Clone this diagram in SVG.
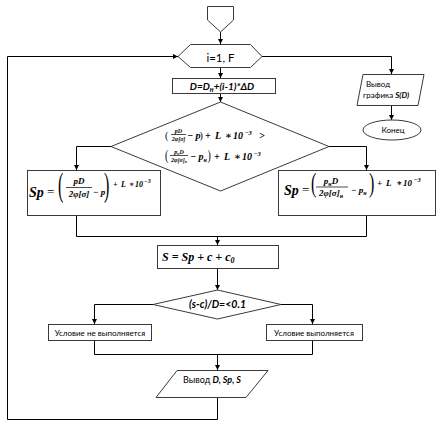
<svg xmlns="http://www.w3.org/2000/svg" width="444" height="442" viewBox="0 0 444 442">
<style>
.sh{fill:#fff;stroke:#3a3a3a;stroke-width:1}
.ln{fill:none;stroke:#000;stroke-width:1}
.ar{marker-end:url(#ah)}
.lb{font-family:Lato,"Liberation Sans",sans-serif;fill:#000}
.m{font-family:"Liberation Serif","DejaVu Serif",serif;font-style:italic;font-weight:bold;fill:#000}
.p{font-family:"Liberation Serif","DejaVu Serif",serif;fill:#000}
.bar{stroke:#000;stroke-width:0.7}
</style>
<defs>
<marker id="ah" viewBox="0 0 8 8" refX="8" refY="4" markerWidth="5" markerHeight="5" orient="auto" markerUnits="userSpaceOnUse"><path d="M0,0 L8,4 L0,8 z" fill="#000"/></marker>
</defs>
<rect width="444" height="442" fill="#fff"/>
<g id="connectors">
<line class="ln ar" x1="220.5" y1="32" x2="220.5" y2="44"/>
<line class="ln ar" x1="220.5" y1="67" x2="220.5" y2="78"/>
<line class="ln ar" x1="220.5" y1="93" x2="220.5" y2="102"/>
<polyline class="ln" points="262,56.5 391.5,56.5 391.5,74"/>
<line class="ln ar" x1="391.5" y1="60" x2="391.5" y2="74"/>
<line class="ln ar" x1="391.5" y1="105" x2="391.5" y2="120"/>
<polyline class="ln ar" points="111,146.5 76.5,146.5 76.5,170"/>
<polyline class="ln ar" points="329,146.5 366.5,146.5 366.5,170"/>
<polyline class="ln" points="76.5,216 76.5,236.5 366.5,236.5 366.5,215"/>
<line class="ln ar" x1="217.5" y1="236" x2="217.5" y2="245"/>
<line class="ln ar" x1="217.5" y1="268" x2="217.5" y2="290"/>
<polyline class="ln ar" points="153,304.5 94.5,304.5 94.5,324"/>
<polyline class="ln ar" points="281,304.5 312.5,304.5 312.5,324"/>
<polyline class="ln" points="94.5,340 94.5,354.5 312.5,354.5 312.5,340"/>
<line class="ln ar" x1="217.5" y1="354" x2="217.5" y2="370"/>
<polyline class="ln ar" points="217.5,397 217.5,419.5 7.5,419.5 7.5,56.5 178,56.5"/>
</g>
<g id="start"><polygon class="sh" points="207.5,6.5 233.5,6.5 233.5,20 220.5,32 207.5,20"/></g>
<g id="loop"><polygon class="sh" points="178,56.5 190.5,44.5 250.5,44.5 262,56.5 250.5,67.5 190.5,67.5"/>
<text class="lb" x="220.5" y="62" font-size="11.5" text-anchor="middle">i=1, F</text></g>
<g id="calcD"><rect class="sh" x="172.5" y="78.5" width="103" height="15"/>
<text class="lb" x="222" y="90" font-size="10" font-weight="bold" font-style="italic" text-anchor="middle">D=D<tspan font-size="7" dy="2">н</tspan><tspan dy="-2">+(i-1)*ΔD</tspan></text></g>
<g id="cond1"><polygon class="sh" points="220.5,102 329,146.5 220.5,191 111,146.5"/>
<text class="p" font-size="10" transform="translate(165,139.3) scale(1,1.1)">(</text>
<text class="m" x="178.5" y="133" font-size="6" text-anchor="middle">pD</text>
<line class="bar" x1="171" y1="134.5" x2="186" y2="134.5"/>
<text class="m" x="178.5" y="140.5" font-size="6" text-anchor="middle">2φ[σ]</text>
<text class="m" x="187" y="139" font-size="10">− p</text>
<text class="p" font-size="10" transform="translate(199.5,139.3) scale(1,1.1)">)</text>
<text class="m" x="205" y="139" font-size="10">+</text>
<text class="m" x="215" y="139" font-size="10">L</text>
<text class="m" x="225" y="139" font-size="10">∗</text>
<text class="m" x="233" y="139" font-size="10">10</text>
<text class="m" x="244.5" y="134.5" font-size="6.5">−3</text>
<text class="m" x="259" y="139" font-size="10">&gt;</text>
<text class="p" font-size="10" transform="translate(165,160) scale(1,1.4)">(</text>
<text class="m" x="179" y="154" font-size="6" text-anchor="middle">p<tspan font-size="4" dy="1">н</tspan><tspan dy="-1">D</tspan></text>
<line class="bar" x1="170" y1="155.5" x2="188" y2="155.5"/>
<text class="m" x="179" y="161.5" font-size="6" text-anchor="middle">2φ[σ]<tspan font-size="4" dy="1">н</tspan></text>
<text class="m" x="190" y="160" font-size="10">− p<tspan font-size="6" dy="2">н</tspan></text>
<text class="p" font-size="10" transform="translate(207.5,160) scale(1,1.4)">)</text>
<text class="m" x="214" y="160" font-size="10">+</text>
<text class="m" x="224" y="160" font-size="10">L</text>
<text class="m" x="234" y="160" font-size="10">∗</text>
<text class="m" x="242" y="160" font-size="10">10</text>
<text class="m" x="253.5" y="155.5" font-size="6.5">−3</text>
</g>
<g id="spLeft"><rect class="sh" x="27.5" y="170.5" width="133" height="45"/>
<text class="m" x="29" y="197" font-size="14">Sp</text>
<text class="p" x="47" y="196" font-size="13">=</text>
<text class="p" font-size="16" transform="translate(58,195.5) scale(1,2.1)">(</text>
<text class="m" x="79" y="184" font-size="9" text-anchor="middle">pD</text>
<line class="bar" x1="66" y1="187.5" x2="92" y2="187.5"/>
<text class="m" x="79" y="197" font-size="9" text-anchor="middle">2φ[σ]</text>
<text class="m" x="93" y="195" font-size="9">− p</text>
<text class="p" font-size="16" transform="translate(104,195.5) scale(1,2.1)">)</text>
<text class="m" x="113" y="187" font-size="8">+</text>
<text class="m" x="121" y="187" font-size="8">L</text>
<text class="m" x="129" y="187" font-size="8">∗</text>
<text class="m" x="135" y="187" font-size="8">10</text>
<text class="m" x="144" y="183" font-size="6">−3</text>
</g>
<g id="spRight"><rect class="sh" x="278.5" y="170.5" width="157" height="45"/>
<text class="m" x="284" y="195" font-size="14">Sp</text>
<text class="p" x="302" y="194" font-size="13">=</text>
<text class="p" font-size="16" transform="translate(311,192) scale(1,1.7)">(</text>
<text class="m" x="331" y="184" font-size="9" text-anchor="middle">p<tspan font-size="6" dy="2">н</tspan><tspan dy="-2">D</tspan></text>
<line class="bar" x1="316" y1="187" x2="348" y2="187"/>
<text class="m" x="331" y="196" font-size="9" text-anchor="middle">2φ[σ]<tspan font-size="6" dy="2">н</tspan></text>
<text class="m" x="351" y="193" font-size="9">− p<tspan font-size="6" dy="2">н</tspan></text>
<text class="p" font-size="16" transform="translate(369,192) scale(1,1.7)">)</text>
<text class="m" x="377" y="186" font-size="9">+</text>
<text class="m" x="386" y="186" font-size="9">L</text>
<text class="m" x="396" y="186" font-size="9">∗</text>
<text class="m" x="403" y="186" font-size="9">10</text>
<text class="m" x="413.5" y="182" font-size="6.5">−3</text>
</g>
<g id="calcS"><rect class="sh" x="157.5" y="245.5" width="121" height="23"/>
<text class="m" x="162" y="261" font-size="12" xml:space="preserve">S = Sp + c + c<tspan font-size="8" dy="2">0</tspan></text></g>
<g id="cond2"><polygon class="sh" points="217.5,290 281,304.5 217.5,319 153,304.5"/>
<text class="lb" x="217.5" y="308" font-size="10.5" font-weight="bold" font-style="italic" text-anchor="middle">(s-c)/D=&lt;0.1</text></g>
<g id="notMet"><rect class="sh" x="48.5" y="324.5" width="103" height="16"/>
<text class="lb" x="100" y="336" font-size="8" text-anchor="middle">Условие не выполняется</text></g>
<g id="met"><rect class="sh" x="266.5" y="324.5" width="96" height="16"/>
<text class="lb" x="314" y="336" font-size="8" text-anchor="middle">Условие выполняется</text></g>
<g id="output"><polygon class="sh" points="177,370.5 268,370.5 246,397.5 156,397.5"/>
<text class="lb" x="212" y="383" font-size="9" text-anchor="middle">Вывод <tspan font-style="italic" font-weight="bold">D, Sp, S</tspan></text></g>
<g id="graph"><polygon class="sh" points="363,74.5 424,74.5 418,105.5 357,105.5"/>
<text class="lb" x="366" y="87" font-size="8">Вывод</text>
<text class="lb" x="363" y="98" font-size="8">графика <tspan font-style="italic" font-weight="bold">S(D)</tspan></text></g>
<g id="end"><ellipse class="sh" cx="392" cy="130" rx="29" ry="10"/>
<text class="lb" x="393" y="133" font-size="8" text-anchor="middle">Конец</text></g>
</svg>
